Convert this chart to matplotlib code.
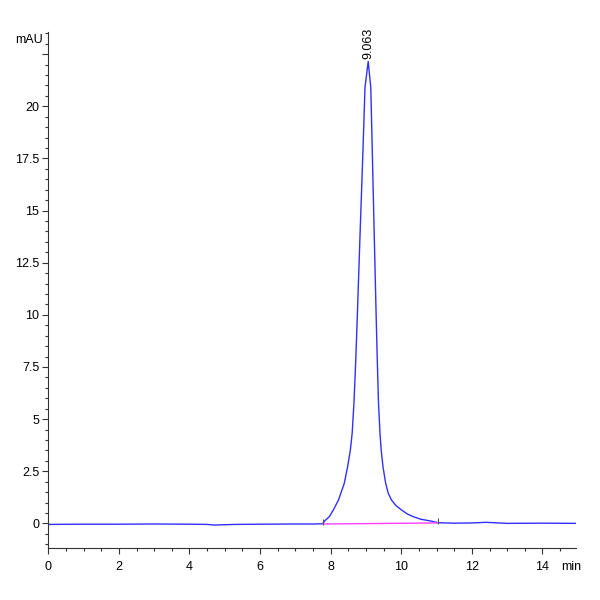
import numpy as np
import matplotlib
matplotlib.use('Agg')
import matplotlib.pyplot as plt
from matplotlib.ticker import MultipleLocator

plt.rcParams['font.family'] = ['Liberation Sans Narrow', 'Liberation Sans', 'DejaVu Sans']

# chromatogram (min, mAU)
time = [0.0, 0.8, 2.0, 3.0, 4.0, 4.5, 4.7, 4.9, 5.1, 5.3, 6.0, 7.0, 7.5, 7.77,
        7.838, 7.96, 8.074, 8.221, 8.385, 8.479, 8.558, 8.609, 8.66, 8.711, 8.754,
        8.83, 8.915, 8.972, 9.063,
        9.136, 9.178, 9.235, 9.289, 9.32, 9.354, 9.397, 9.431, 9.482, 9.558, 9.63,
        9.722, 9.85, 10.01, 10.17, 10.34, 10.55, 10.81, 11.05, 11.5, 12.0, 12.4,
        13.0, 14.0, 14.95]
signal = [-0.05, -0.04, -0.04, -0.03, -0.04, -0.05, -0.08, -0.07, -0.06, -0.05, -0.04,
          -0.03, -0.03, -0.02,
          0.13, 0.32, 0.64, 1.12, 1.92, 2.71, 3.52, 4.32, 5.8, 7.84, 9.91,
          13.75, 17.9, 20.9, 22.15,
          20.9, 17.9, 13.75, 9.91, 7.84, 5.8, 4.32, 3.52, 2.71, 1.92, 1.45,
          1.12, 0.85, 0.64, 0.45, 0.32, 0.2, 0.12, 0.03, 0.01, 0.02, 0.05,
          0.0, 0.01, 0.0]

# integration baseline
base_t = [7.77, 11.05]
base_y = [-0.03, 0.02]

peak_rt = 9.063
peak_h = 22.15

yticks = [0, 2.5, 5, 7.5, 10, 12.5, 15, 17.5, 20, 22.5]
ylabels = ['0', '2.5', '5', '7.5', '10', '12.5', '15', '17.5', '20', '']

fig = plt.figure(figsize=(6, 6), dpi=100)
ax = fig.add_axes([0.0805, 0.0867, 0.8795, 0.86])

ax.plot(time, signal, color='#3030ff', lw=1.0)
ax.plot(base_t, base_y, color='#ff40ff', lw=1.0)
ax.plot(base_t, [b + 0.1 for b in base_y], linestyle='None', marker='|',
        color='#555555', markersize=4, markeredgewidth=0.8)

ax.text(peak_rt, peak_h + 0.1, '%.3f' % peak_rt, rotation=90, ha='center',
        va='bottom', fontsize=9, clip_on=False)

ax.set_xlim(0, 14.95)
ax.set_ylim(-1.18, 23.56)

for s in ['top', 'right']:
    ax.spines[s].set_visible(False)
for s in ['left', 'bottom']:
    ax.spines[s].set_linewidth(0.8)
    ax.spines[s].set_color('#333333')

ax.xaxis.set_major_locator(MultipleLocator(2))
ax.xaxis.set_minor_locator(MultipleLocator(0.5))
ax.yaxis.set_minor_locator(MultipleLocator(0.5))
ax.set_yticks(yticks)
ax.set_yticklabels(ylabels)

ax.tick_params(axis='both', which='major', direction='out', length=4.5, width=0.8,
               labelsize=9, color='#333333')
ax.tick_params(axis='x', which='major', pad=5)
ax.tick_params(axis='y', which='major', pad=2)
ax.tick_params(axis='both', which='minor', direction='out', length=2.5, width=0.8,
               color='#333333')

ax.text(-0.01, 0.985, 'mAU', transform=ax.transAxes, ha='right', va='center', fontsize=9)
ax.text(0.99, -0.037, 'min', transform=ax.transAxes, ha='center', va='center', fontsize=9)

fig.savefig('out.png', dpi=100)
